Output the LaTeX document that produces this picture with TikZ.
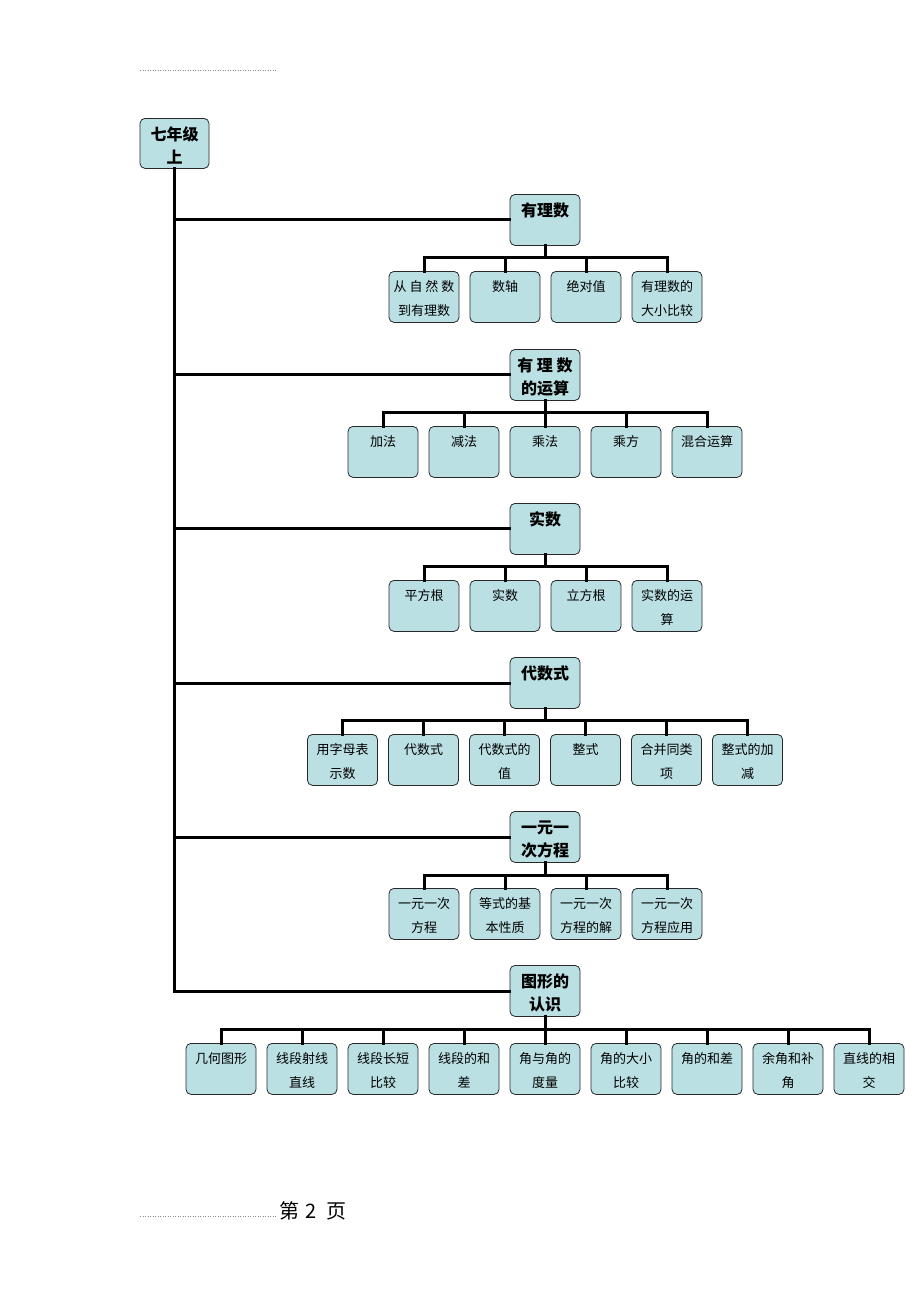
\documentclass[tikz,border=0pt]{standalone}
\usepackage{fontspec}
\setmainfont{Noto Sans CJK SC}
\definecolor{boxfill}{RGB}{187,224,227}
\definecolor{boxline}{RGB}{40,40,40}
\tikzset{
  box/.style={draw=boxline, fill=boxfill, rounded corners=5pt, line width=0.8pt, inner sep=0pt, anchor=north},
  link/.style={line width=3pt, line cap=rect},
  rule/.style={draw=black!45, line width=0.5pt, dotted},
}
\newcommand\kidbox[4]{\node[box] (#1) at (#2,#3) {\parbox[c][51pt][t]{70pt}{\centering\fontsize{13}{24}\selectfont\rule{0pt}{20pt}#4}};}
\newcommand\catbox[4]{\node[box] (#1) at (#2,#3) {\parbox[c][51pt][t]{70pt}{\centering\bfseries\fontsize{16}{23}\selectfont\rule{0pt}{22pt}#4}};}
\begin{document}
\begin{tikzpicture}[x=1pt,y=-1pt]
\useasboundingbox (0,0) rectangle (920,1302);
% header / footer
\coordinate (h1) at (140,70); \coordinate (h2) at (277,70);
\draw[rule] (h1) -- (h2);
\coordinate (f1) at (140,1216); \coordinate (f2) at (276,1216);
\draw[rule] (f1) -- (f2);
\node[anchor=base west, inner sep=0pt, font=\fontsize{20}{22}\selectfont] (page) at (279,1218) {第\hspace{6pt}2\hspace{10pt}页};

% root
\node[box] (root) at (174.5,118) {\parbox[c][50pt][t]{69pt}{\centering\bfseries\fontsize{16}{23}\selectfont\rule{0pt}{22pt}七年级\\上}};
\coordinate (s1) at (174.5,219);
\coordinate (s2) at (174.5,374);
\coordinate (s3) at (174.5,528);
\coordinate (s4) at (174.5,683);
\coordinate (s5) at (174.5,837);
\coordinate (s6) at (174.5,991);
\draw[link] (root.south) -- (s6);

% row 1
\catbox{c1}{545}{194}{有理数}
\kidbox{k11}{424}{271}{从 自 然 数\\到有理数}
\kidbox{k12}{505}{271}{数轴}
\kidbox{k13}{586}{271}{绝对值}
\kidbox{k14}{667}{271}{有理数的\\大小比较}
\coordinate (b1) at (545,257);
\draw[link] (s1) -- (c1.west |- s1);
\draw[link] (c1.south) -- (b1);
\foreach \k in {k11,k12,k13,k14} \draw[link] (\k.north) |- (b1);

% row 2
\catbox{c2}{545}{349}{有 理 数\\的运算}
\kidbox{k21}{383}{426}{加法}
\kidbox{k22}{464}{426}{减法}
\kidbox{k23}{545}{426}{乘法}
\kidbox{k24}{626}{426}{乘方}
\kidbox{k25}{707}{426}{混合运算}
\coordinate (b2) at (545,412);
\draw[link] (s2) -- (c2.west |- s2);
\draw[link] (c2.south) -- (b2);
\foreach \k in {k21,k22,k23,k24,k25} \draw[link] (\k.north) |- (b2);

% row 3
\catbox{c3}{545}{503}{实数}
\kidbox{k31}{424}{580}{平方根}
\kidbox{k32}{505}{580}{实数}
\kidbox{k33}{586}{580}{立方根}
\kidbox{k34}{667}{580}{实数的运\\算}
\coordinate (b3) at (545,566);
\draw[link] (s3) -- (c3.west |- s3);
\draw[link] (c3.south) -- (b3);
\foreach \k in {k31,k32,k33,k34} \draw[link] (\k.north) |- (b3);

% row 4
\catbox{c4}{545}{657}{代数式}
\kidbox{k41}{342.5}{734}{用字母表\\示数}
\kidbox{k42}{423.5}{734}{代数式}
\kidbox{k43}{504.5}{734}{代数式的\\值}
\kidbox{k44}{585.5}{734}{整式}
\kidbox{k45}{666.5}{734}{合并同类\\项}
\kidbox{k46}{747.5}{734}{整式的加\\减}
\coordinate (b4) at (545,720);
\draw[link] (s4) -- (c4.west |- s4);
\draw[link] (c4.south) -- (b4);
\foreach \k in {k41,k42,k43,k44,k45,k46} \draw[link] (\k.north) |- (b4);

% row 5
\catbox{c5}{545}{811}{一元一\\次方程}
\kidbox{k51}{424}{888}{一元一次\\方程}
\kidbox{k52}{505}{888}{等式的基\\本性质}
\kidbox{k53}{586}{888}{一元一次\\方程的解}
\kidbox{k54}{667}{888}{一元一次\\方程应用}
\coordinate (b5) at (545,875);
\draw[link] (s5) -- (c5.west |- s5);
\draw[link] (c5.south) -- (b5);
\foreach \k in {k51,k52,k53,k54} \draw[link] (\k.north) |- (b5);

% row 6
\catbox{c6}{545}{965}{图形的\\认识}
\kidbox{k61}{221}{1043}{几何图形}
\kidbox{k62}{302}{1043}{线段射线\\直线}
\kidbox{k63}{383}{1043}{线段长短\\比较}
\kidbox{k64}{464}{1043}{线段的和\\差}
\kidbox{k65}{545}{1043}{角与角的\\度量}
\kidbox{k66}{626}{1043}{角的大小\\比较}
\kidbox{k67}{707}{1043}{角的和差}
\kidbox{k68}{788}{1043}{余角和补\\角}
\kidbox{k69}{869}{1043}{直线的相\\交}
\coordinate (b6) at (545,1029);
\draw[link] (s6) -- (c6.west |- s6);
\draw[link] (c6.south) -- (b6);
\foreach \k in {k61,k62,k63,k64,k65,k66,k67,k68,k69} \draw[link] (\k.north) |- (b6);
\end{tikzpicture}
\end{document}
